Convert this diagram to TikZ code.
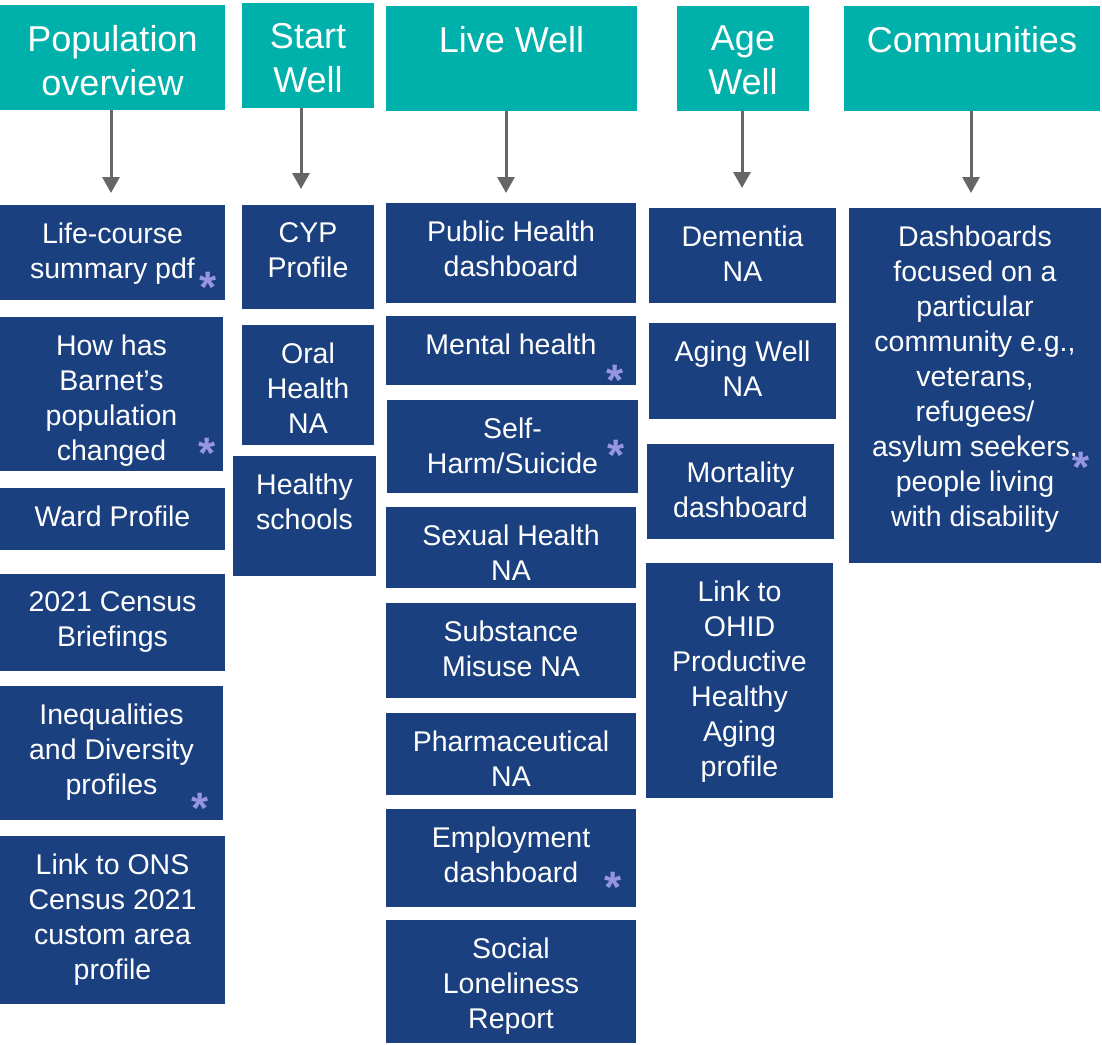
\documentclass[tikz,border=0pt]{standalone}
\usepackage{fontspec}
\setmainfont{Liberation Sans}
\usepackage{tikz}
\usetikzlibrary{arrows.meta}

\definecolor{headteal}{RGB}{0,176,170}
\definecolor{boxnavy}{RGB}{27,64,128}
\definecolor{starlilac}{RGB}{150,150,222}
\definecolor{arrowgrey}{RGB}{102,102,102}

\begin{document}
\begin{tikzpicture}[x=1pt,y=-1pt,
		head/.style={shape=rectangle,fill=headteal,inner sep=0pt},
		headtext/.style={anchor=north,yshift=-20pt,text=white,align=center,inner sep=0pt,font=\fontsize{36}{44}\selectfont},
		item/.style={shape=rectangle,fill=boxnavy,inner sep=0pt},
		itemtext/.style={anchor=north,yshift=-18pt,text=white,align=center,inner sep=0pt,font=\fontsize{28.5}{35}\selectfont},
		star/.style={anchor=north,inner sep=0pt,text=starlilac,font=\fontsize{44}{44}\selectfont\bfseries},
		link/.style={draw=arrowgrey,line width=3pt,-{Triangle[width=17pt,length=16pt]}}]
		\useasboundingbox (0,0) rectangle (1102,1044);
		
		% headers
		\node[head,minimum width=225pt,minimum height=105pt] (PopHead) at (112.5,57.5) {};
		\node[head,minimum width=132pt,minimum height=105pt] (StartHead) at (308,55.5) {};
		\node[head,minimum width=251pt,minimum height=105pt] (LiveHead) at (511.5,58.5) {};
		\node[head,minimum width=132pt,minimum height=105pt] (AgeHead) at (743,58.5) {};
		\node[head,minimum width=256pt,minimum height=105pt] (CommHead) at (972,58.5) {};
		
		\node[headtext] (PopHeadText) at (PopHead.north) {Population\\overview};
		\node[headtext] (StartHeadText) at (StartHead.north) {Start\\Well};
		\node[headtext] (LiveHeadText) at (LiveHead.north) {Live Well};
		\node[headtext] (AgeHeadText) at (AgeHead.north) {Age\\Well};
		\node[headtext] (CommHeadText) at (CommHead.north) {Communities};
		
		% population overview
		\node[item,minimum width=225pt,minimum height=95pt] (LifeCourse) at (112.5,252.5) {};
		\node[item,minimum width=223pt,minimum height=153.5pt] (Barnet) at (111.5,393.75) {};
		\node[item,minimum width=225pt,minimum height=62pt] (Ward) at (112.5,519) {};
		\node[item,minimum width=225pt,minimum height=96.5pt] (Census) at (112.5,622.25) {};
		\node[item,minimum width=223pt,minimum height=133.5pt] (Inequal) at (111.5,752.75) {};
		\node[item,minimum width=225pt,minimum height=168pt] (OnsLink) at (112.5,920) {};
		
		\node[itemtext] (LifeCourseText) at (LifeCourse.north) {Life-course\\summary pdf};
		\node[itemtext] (BarnetText) at (Barnet.north) {How has\\Barnet’s\\population\\changed};
		\node[itemtext] (WardText) at (Ward.north) {Ward Profile};
		\node[itemtext] (CensusText) at (Census.north) {2021 Census\\Briefings};
		\node[itemtext] (InequalText) at (Inequal.north) {Inequalities\\and Diversity\\profiles};
		\node[itemtext] (OnsLinkText) at (OnsLink.north) {Link to ONS\\Census 2021\\custom area\\profile};
		
		% start well
		\node[item,minimum width=132pt,minimum height=104pt] (Cyp) at (308,257) {};
		\node[item,minimum width=132pt,minimum height=120pt] (Oral) at (308,385) {};
		\node[item,minimum width=143pt,minimum height=120pt] (Schools) at (304.5,516) {};
		
		\node[itemtext] (CypText) at (Cyp.north) {CYP\\Profile};
		\node[itemtext] (OralText) at (Oral.north) {Oral\\Health\\NA};
		\node[itemtext] (SchoolsText) at (Schools.north) {Healthy\\schools};
		
		% live well
		\node[item,minimum width=250pt,minimum height=100pt] (PhDash) at (511,253) {};
		\node[item,minimum width=250pt,minimum height=69pt] (Mental) at (511,350.5) {};
		\node[item,minimum width=251pt,minimum height=92.5pt] (SelfHarm) at (512.5,446.25) {};
		\node[item,minimum width=250pt,minimum height=81pt] (Sexual) at (511,547.5) {};
		\node[item,minimum width=250pt,minimum height=95pt] (Substance) at (511,650.5) {};
		\node[item,minimum width=250pt,minimum height=82pt] (Pharma) at (511,754) {};
		\node[item,minimum width=250pt,minimum height=97.5pt] (Employ) at (511,857.75) {};
		\node[item,minimum width=250pt,minimum height=123pt] (Lonely) at (511,981.5) {};
		
		\node[itemtext] (PhDashText) at (PhDash.north) {Public Health\\dashboard};
		\node[itemtext] (MentalText) at (Mental.north) {Mental health};
		\node[itemtext] (SelfHarmText) at (SelfHarm.north) {Self-\\Harm/Suicide};
		\node[itemtext] (SexualText) at (Sexual.north) {Sexual Health\\NA};
		\node[itemtext] (SubstanceText) at (Substance.north) {Substance\\Misuse NA};
		\node[itemtext] (PharmaText) at (Pharma.north) {Pharmaceutical\\NA};
		\node[itemtext] (EmployText) at (Employ.north) {Employment\\dashboard};
		\node[itemtext] (LonelyText) at (Lonely.north) {Social\\Loneliness\\Report};
		
		% age well
		\node[item,minimum width=187pt,minimum height=95pt] (Dementia) at (742.5,255.5) {};
		\node[item,minimum width=187pt,minimum height=96pt] (AgingNA) at (742.5,371) {};
		\node[item,minimum width=187pt,minimum height=95pt] (Mortality) at (740.5,491.5) {};
		\node[item,minimum width=187pt,minimum height=234.5pt] (OhidLink) at (739.5,680.25) {};
		
		\node[itemtext] (DementiaText) at (Dementia.north) {Dementia\\NA};
		\node[itemtext] (AgingNAText) at (AgingNA.north) {Aging Well\\NA};
		\node[itemtext] (MortalityText) at (Mortality.north) {Mortality\\dashboard};
		\node[itemtext] (OhidLinkText) at (OhidLink.north) {Link to\\OHID\\Productive\\Healthy\\Aging\\profile};
		
		% communities
		\node[item,minimum width=252pt,minimum height=355pt] (CommDash) at (975,385) {};
		\node[itemtext] (CommDashText) at (CommDash.north) {Dashboards\\focused on a\\particular\\community e.g.,\\veterans,\\refugees/\\asylum seekers,\\people living\\with disability};
		
		% asterisks
		\node[star] (LifeCourseStar) at (208,272) {*};
		\node[star] (BarnetStar) at (207,438) {*};
		\node[star] (MentalStar) at (615,365) {*};
		\node[star] (SelfHarmStar) at (616,440) {*};
		\node[star] (InequalStar) at (200,793) {*};
		\node[star] (EmployStar) at (613,872) {*};
		\node[star] (CommDashStar) at (1081,452) {*};
		
		% arrows
		\coordinate (PopEnd) at (111,193);
		\coordinate (StartEnd) at (301,189);
		\coordinate (LiveEnd) at (506,193);
		\coordinate (AgeEnd) at (742,188);
		\coordinate (CommEnd) at (971,193);
		
		\draw[link] (PopHead.south -| PopEnd) -- (PopEnd);
		\draw[link] (StartHead.south -| StartEnd) -- (StartEnd);
		\draw[link] (LiveHead.south -| LiveEnd) -- (LiveEnd);
		\draw[link] (AgeHead.south -| AgeEnd) -- (AgeEnd);
		\draw[link] (CommHead.south -| CommEnd) -- (CommEnd);
		
	\end{tikzpicture}
\end{document}
